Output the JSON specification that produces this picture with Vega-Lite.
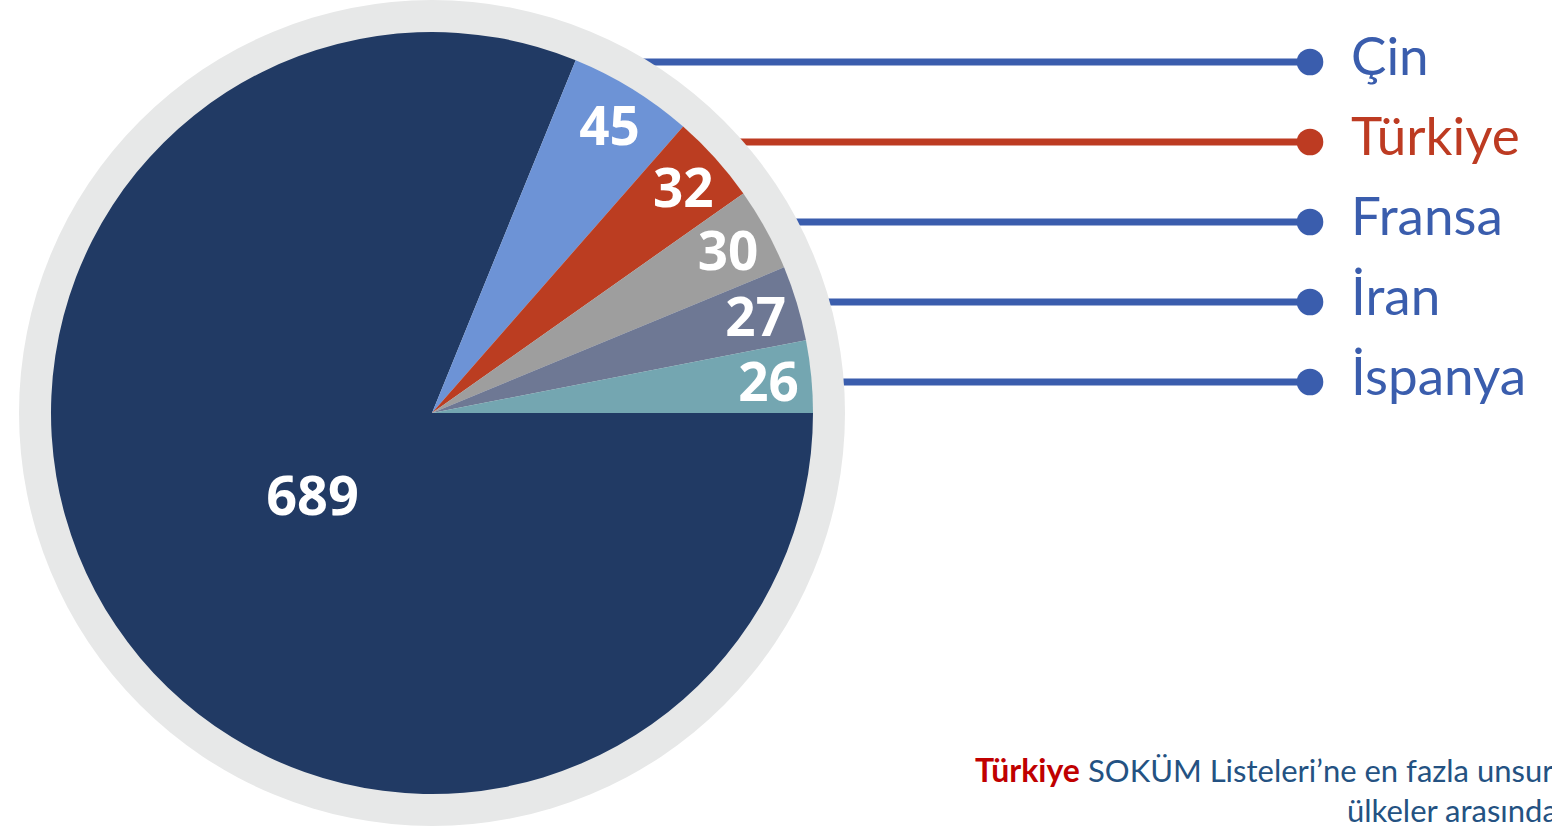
{
  "$schema": "https://vega.github.io/schema/vega-lite/v6.json",
  "width": 1552,
  "height": 831,
  "autosize": {"type": "fit", "contains": "padding"},
  "padding": 0,
  "background": "white",
  "config": {"view": {"stroke": null}, "font": "Lato"},
  "datasets": {
    "slices": [
      {"country": "Diğer", "value": 689, "rank": 1},
      {"country": "Çin", "value": 45, "rank": 2},
      {"country": "Türkiye", "value": 32, "rank": 3},
      {"country": "Fransa", "value": 30, "rank": 4},
      {"country": "İran", "value": 27, "rank": 5},
      {"country": "İspanya", "value": 26, "rank": 6}
    ],
    "ring": [{"shape": "ring"}],
    "note1a": [{"t": "Türkiye"}],
    "note1b": [{"t": "SOKÜM Listeleri’ne en fazla unsur kaydettiren"}],
    "note2": [{"t": "ülkeler arasında yer almaktadır."}]
  },
  "data": {"name": "slices"},
  "resolve": {"scale": {"y": "independent"}},
  "layer": [
    {
      "transform": [{"filter": "datum.rank > 1"}],
      "mark": {"type": "rule", "strokeWidth": 7},
      "encoding": {
        "x": {"datum": 432, "type": "quantitative", "scale": {"domain": [0, 1552], "nice": false, "zero": false}, "axis": null},
        "x2": {"datum": 1310},
        "y": {"field": "country", "type": "nominal", "sort": ["Çin", "Türkiye", "Fransa", "İran", "İspanya"], "scale": {"type": "point", "range": [62, 382], "padding": 0}, "axis": null},
        "color": {"condition": {"test": "datum.country === 'Türkiye'", "value": "#BD3B22"}, "value": "#3A5DAD"}
      }
    },
    {
      "data": {"name": "ring"},
      "mark": {"type": "arc", "radius": 413, "theta": 0, "theta2": 6.2832, "color": "#E7E8E8"},
      "encoding": {
        "x": {"datum": 432, "type": "quantitative", "axis": null},
        "y": {"datum": 413, "type": "quantitative", "scale": {"domain": [0, 831], "reverse": true, "nice": false, "zero": false}, "axis": null}
      }
    },
    {
      "mark": {"type": "arc", "outerRadius": 381},
      "encoding": {
        "x": {"datum": 432, "type": "quantitative", "axis": null},
        "y": {"datum": 413, "type": "quantitative", "scale": {"domain": [0, 831], "reverse": true, "nice": false, "zero": false}, "axis": null},
        "theta": {"field": "value", "type": "quantitative", "stack": true, "scale": {"range": [1.5708, 7.854]}},
        "order": {"field": "rank", "type": "quantitative", "sort": "ascending"},
        "color": {"field": "country", "type": "nominal", "legend": null,
          "scale": {"domain": ["Diğer", "Çin", "Türkiye", "Fransa", "İran", "İspanya"],
                    "range": ["#213A64", "#6D93D6", "#BB3D21", "#9E9E9E", "#6E7894", "#74A6B1"]}}
      }
    },
    {
      "mark": {"type": "text", "radius": 338, "dy": 4, "fontSize": 53, "font": "Open Sans", "fontWeight": "bold", "color": "white", "align": "center", "baseline": "middle"},
      "encoding": {
        "x": {"datum": 432, "type": "quantitative", "axis": null},
        "y": {"datum": 413, "type": "quantitative", "scale": {"domain": [0, 831], "reverse": true, "nice": false, "zero": false}, "axis": null},
        "theta": {"field": "value", "type": "quantitative", "stack": true},
        "order": {"field": "rank", "type": "quantitative", "sort": "ascending"},
        "detail": {"field": "country", "type": "nominal"},
        "text": {"condition": {"test": "datum.value < 100", "field": "value", "type": "quantitative"}, "value": ""}
      }
    },
    {
      "mark": {"type": "text", "radius": 144, "dy": 6, "fontSize": 54, "font": "Open Sans", "fontWeight": "bold", "color": "white", "align": "center", "baseline": "middle"},
      "encoding": {
        "x": {"datum": 432, "type": "quantitative", "axis": null},
        "y": {"datum": 413, "type": "quantitative", "scale": {"domain": [0, 831], "reverse": true, "nice": false, "zero": false}, "axis": null},
        "theta": {"field": "value", "type": "quantitative", "stack": true},
        "order": {"field": "rank", "type": "quantitative", "sort": "ascending"},
        "detail": {"field": "country", "type": "nominal"},
        "text": {"condition": {"test": "datum.value >= 100", "field": "value", "type": "quantitative"}, "value": ""}
      }
    },
    {
      "transform": [{"filter": "datum.rank > 1"}],
      "mark": {"type": "point", "filled": true, "size": 707, "opacity": 1, "shape": "circle"},
      "encoding": {
        "x": {"datum": 1310, "type": "quantitative", "axis": null},
        "y": {"field": "country", "type": "nominal", "sort": ["Çin", "Türkiye", "Fransa", "İran", "İspanya"], "scale": {"type": "point", "range": [62, 382], "padding": 0}, "axis": null},
        "color": {"condition": {"test": "datum.country === 'Türkiye'", "value": "#BD3B22"}, "value": "#3A5DAD"}
      }
    },
    {
      "transform": [{"filter": "datum.rank > 1"}],
      "mark": {"type": "text", "fontSize": 53, "align": "left", "baseline": "middle", "dy": -3},
      "encoding": {
        "x": {"datum": 1351, "type": "quantitative", "axis": null},
        "y": {"field": "country", "type": "nominal", "sort": ["Çin", "Türkiye", "Fransa", "İran", "İspanya"], "scale": {"type": "point", "range": [62, 382], "padding": 0}, "axis": null},
        "text": {"field": "country", "type": "nominal"},
        "color": {"condition": {"test": "datum.country === 'Türkiye'", "value": "#BD3B22"}, "value": "#3A5DAD"}
      }
    },
    {
      "data": {"name": "note1a"},
      "mark": {"type": "text", "fontSize": 32, "fontWeight": "bold", "color": "#C00000", "align": "left", "baseline": "alphabetic", "clip": true},
      "encoding": {
        "x": {"datum": 975, "type": "quantitative", "axis": null},
        "y": {"datum": 782, "type": "quantitative", "scale": {"domain": [0, 831], "reverse": true, "nice": false, "zero": false}, "axis": null},
        "text": {"field": "t", "type": "nominal"}
      }
    },
    {
      "data": {"name": "note1b"},
      "mark": {"type": "text", "fontSize": 31, "color": "#245282", "align": "left", "baseline": "alphabetic", "clip": true},
      "encoding": {
        "x": {"datum": 1088, "type": "quantitative", "axis": null},
        "y": {"datum": 782, "type": "quantitative", "scale": {"domain": [0, 831], "reverse": true, "nice": false, "zero": false}, "axis": null},
        "text": {"field": "t", "type": "nominal"}
      }
    },
    {
      "data": {"name": "note2"},
      "mark": {"type": "text", "fontSize": 31, "color": "#245282", "align": "left", "baseline": "alphabetic", "clip": true},
      "encoding": {
        "x": {"datum": 1347, "type": "quantitative", "axis": null},
        "y": {"datum": 822, "type": "quantitative", "scale": {"domain": [0, 831], "reverse": true, "nice": false, "zero": false}, "axis": null},
        "text": {"field": "t", "type": "nominal"}
      }
    }
  ]
}
